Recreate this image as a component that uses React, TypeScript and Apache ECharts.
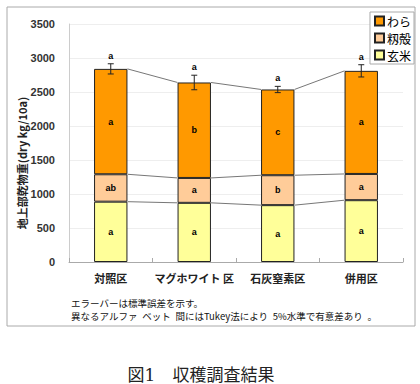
import React, { useEffect, useRef } from "react";
import * as echarts from "echarts";

const categories = ["対照区", "マグホワイト 区", "石灰窒素区", "併用区"];
const brownRice = [887, 870, 836, 909];
const hull = [403, 366, 440, 386];
const straw = [1550, 1404, 1261, 1516];
const errors = [75, 107, 46, 90];
const riceLetters = ["a", "a", "a", "a"];
const hullLetters = ["ab", "a", "b", "a"];
const strawLetters = ["a", "b", "c", "a"];
const totalLetters = ["a", "a", "a", "a"];
const yTicks = [0, 500, 1000, 1500, 2000, 2500, 3000, 3500];

const COL_STRAW = "#FF9900";
const COL_HULL = "#FFCC99";
const COL_RICE = "#FFFF99";
const BAR_RATIO = 0.4;

export default function App() {
  const ref = useRef<HTMLDivElement>(null);
  useEffect(() => {
    if (!ref.current) return;
    const chart = echarts.init(ref.current, null, { renderer: "svg" });
    const totals = categories.map((_, i) => brownRice[i] + hull[i] + straw[i]);
    const errData = categories.map((_, i) => [i, totals[i], errors[i], i]);
    const linkData = categories.slice(0, -1).map((_, i) => [
      i,
      brownRice[i],
      brownRice[i] + hull[i],
      totals[i],
      brownRice[i + 1],
      brownRice[i + 1] + hull[i + 1],
      totals[i + 1],
    ]);
    const labelFont = {
      show: true,
      position: "inside" as const,
      fontSize: 9,
      fontWeight: "bold" as const,
      color: "#000",
      fontFamily: "Liberation Sans, Arial, sans-serif",
    };
    const barBase = {
      type: "bar" as const,
      stack: "total",
      barWidth: "40%",
      itemStyle: { borderColor: "#222", borderWidth: 1 },
    };
    chart.setOption({
      animation: false,
      grid: {
        left: 69,
        right: 17,
        top: 24,
        bottom: 122,
        containLabel: false,
        outerBoundsMode: "none",
      },
      legend: {
        orient: "vertical",
        right: 6,
        top: 12,
        data: ["わら", "籾殻", "玄米"],
        icon: "rect",
        itemWidth: 9,
        itemHeight: 9,
        itemGap: 5,
        padding: [3, 3, 3, 4],
        borderColor: "#aaa",
        borderWidth: 1,
        backgroundColor: "#fff",
        textStyle: {
          fontSize: 12,
          color: "#000",
          fontFamily: "Noto Sans CJK JP",
          padding: [0, 0, 0, -2],
        },
      },
      xAxis: {
        type: "category",
        data: categories,
        axisLine: { lineStyle: { color: "#aaa" } },
        axisTick: { show: true, inside: true, length: 4, lineStyle: { color: "#aaa" } },
        axisLabel: {
          interval: 0,
          margin: 10,
          fontSize: 11,
          fontWeight: "bold",
          color: "#222",
          fontFamily: "Noto Sans CJK JP",
        },
      },
      yAxis: {
        type: "value",
        min: 0,
        max: 3500,
        interval: 500,
        axisLine: { show: true, lineStyle: { color: "#ccc" } },
        axisTick: { show: false },
        splitLine: { lineStyle: { color: "#eeeeee" } },
        axisLabel: {
          margin: 14,
          fontSize: 11,
          fontWeight: "bold",
          color: "#333",
          fontFamily: "Liberation Sans, Arial, sans-serif",
          formatter: (v: number) => (yTicks.includes(v) ? String(v) : ""),
        },
      },
      series: [
        {
          ...barBase,
          name: "玄米",
          data: brownRice,
          itemStyle: { ...barBase.itemStyle, color: COL_RICE },
          label: { ...labelFont, formatter: (p: any) => riceLetters[p.dataIndex] },
        },
        {
          ...barBase,
          name: "籾殻",
          data: hull,
          itemStyle: { ...barBase.itemStyle, color: COL_HULL },
          label: { ...labelFont, formatter: (p: any) => hullLetters[p.dataIndex] },
        },
        {
          ...barBase,
          name: "わら",
          data: straw,
          itemStyle: { ...barBase.itemStyle, color: COL_STRAW },
          label: { ...labelFont, formatter: (p: any) => strawLetters[p.dataIndex] },
        },
        {
          type: "custom",
          name: "links",
          data: linkData,
          z: 3,
          renderItem: (params: any, api: any) => {
            const i = api.value(0);
            const half = (api.size([1, 0])[0] * BAR_RATIO) / 2;
            const children = [1, 2, 3].map((k) => {
              const p = api.coord([i, api.value(k)]);
              const q = api.coord([i + 1, api.value(k + 3)]);
              return {
                type: "line",
                shape: { x1: p[0] + half, y1: p[1], x2: q[0] - half, y2: q[1] },
                style: { stroke: "#777", lineWidth: 1 },
              };
            });
            return { type: "group", children };
          },
        },
        {
          type: "custom",
          name: "err",
          data: errData,
          z: 4,
          renderItem: (params: any, api: any) => {
            const i = api.value(0);
            const t = api.value(1);
            const e = api.value(2);
            const top = api.coord([i, t + e]);
            const bot = api.coord([i, t - e]);
            const cap = 3;
            return {
              type: "group",
              children: [
                { type: "line", shape: { x1: top[0], y1: top[1], x2: bot[0], y2: bot[1] }, style: { stroke: "#222", lineWidth: 1 } },
                { type: "line", shape: { x1: top[0] - cap, y1: top[1], x2: top[0] + cap, y2: top[1] }, style: { stroke: "#222", lineWidth: 1 } },
                { type: "line", shape: { x1: bot[0] - cap, y1: bot[1], x2: bot[0] + cap, y2: bot[1] }, style: { stroke: "#222", lineWidth: 1 } },
                {
                  type: "text",
                  x: top[0],
                  y: top[1] - 8,
                  style: {
                    text: totalLetters[api.value(3)],
                    fontSize: 9,
                    fontWeight: "bold",
                    fill: "#000",
                    align: "center",
                    verticalAlign: "middle",
                    fontFamily: "Liberation Sans, Arial, sans-serif",
                  },
                },
              ],
            };
          },
        },
      ],
      graphic: [
        {
          type: "rect",
          shape: { x: 7, y: 7, width: 408, height: 319 },
          style: { fill: "none", stroke: "#aaa", lineWidth: 1 },
          silent: true,
        },
        {
          type: "text",
          x: 22,
          y: 163,
          rotation: Math.PI / 2,
          style: {
            text: "地上部乾物重(dry kg/10a)",
            fontSize: 11,
            fontWeight: "bold",
            fill: "#222",
            align: "center",
            verticalAlign: "middle",
            fontFamily: "Noto Sans CJK JP",
          },
        },
        {
          type: "text",
          x: 71,
          y: 303,
          style: {
            text: "エラーバーは標準誤差を示す。",
            fontSize: 9.5,
            fill: "#111",
            verticalAlign: "middle",
            fontFamily: "Noto Sans CJK JP",
          },
        },
        {
          type: "text",
          x: 71,
          y: 315.5,
          style: {
            text: "異なるアルファ\u2002ベット\u2002間にはTukey法により\u20025%水準で有意差あり\u2002。",
            fontSize: 9.5,
            fill: "#111",
            verticalAlign: "middle",
            fontFamily: "Noto Sans CJK JP",
          },
        },
        {
          type: "text",
          x: 201,
          y: 375,
          style: {
            text: "図1　収穫調査結果",
            fontSize: 17,
            fill: "#222",
            align: "center",
            verticalAlign: "middle",
            fontFamily: "DejaVu Serif, Noto Sans CJK JP",
          },
        },
      ],
    });
    return () => chart.dispose();
  }, []);
  return (
    <div
      ref={ref}
      style={{ position: "absolute", left: 0, top: 0, width: 420, height: 384 }}
    />
  );
}
